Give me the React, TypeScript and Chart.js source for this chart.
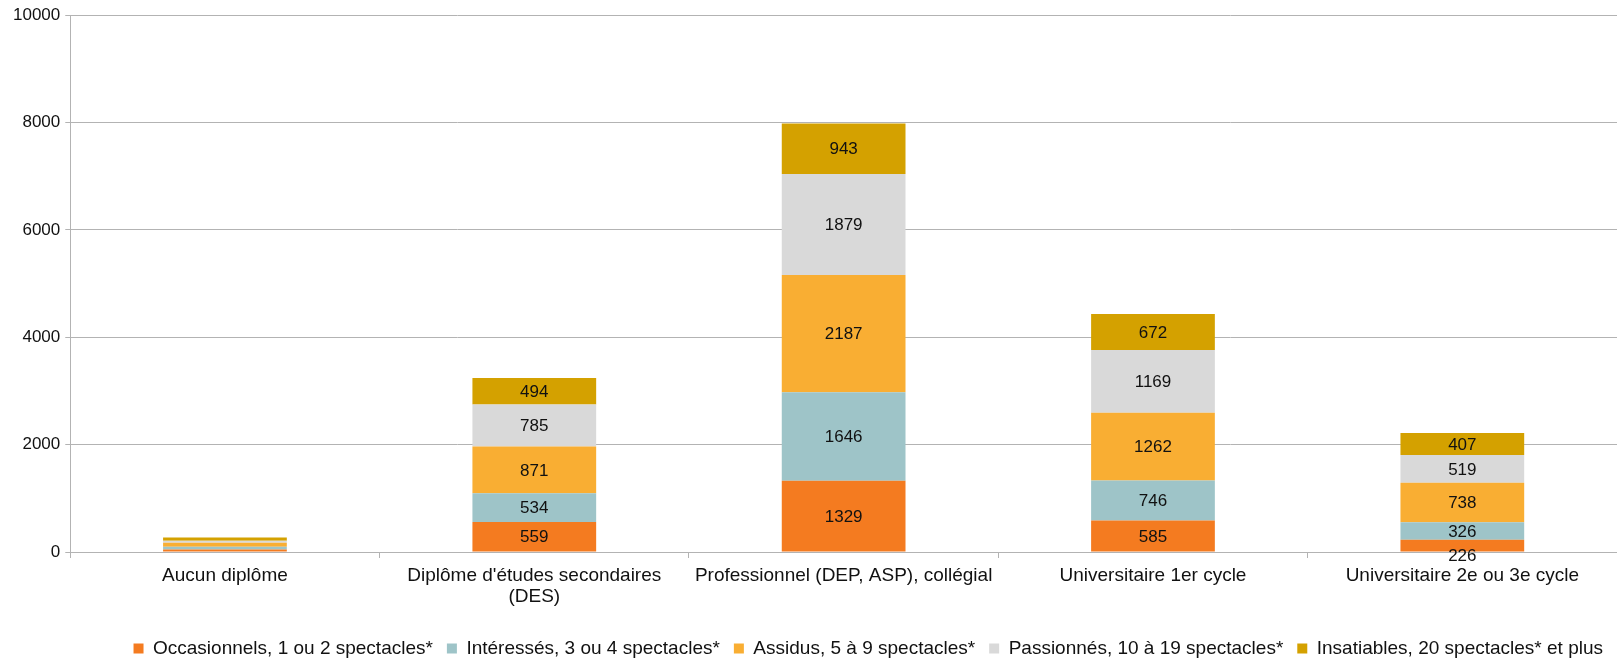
import React, { useEffect, useRef } from "react";
import { Chart, registerables } from "chart.js";

Chart.register(...registerables);

const categories: (string | string[])[] = [
  "Aucun diplôme",
  ["Diplôme d'études secondaires", "(DES)"],
  "Professionnel (DEP, ASP), collégial",
  "Universitaire 1er cycle",
  "Universitaire 2e ou 3e cycle",
];

const seriesNames = [
  "Occasionnels, 1 ou 2 spectacles*",
  "Intéressés, 3 ou 4 spectacles*",
  "Assidus, 5 à 9 spectacles*",
  "Passionnés, 10 à 19 spectacles*",
  "Insatiables, 20 spectacles* et plus",
];

const occasionnels = [45, 559, 1329, 585, 226];
const interesses = [55, 534, 1646, 746, 326];
const assidus = [70, 871, 2187, 1262, 738];
const passionnes = [40, 785, 1879, 1169, 519];
const insatiables = [60, 494, 943, 672, 407];

const seriesColors = ["#F47B20", "#9EC4C8", "#F9AE33", "#D9D9D9", "#D4A100"];

const yMin = 0;
const yMax = 10000;
const yStep = 2000;

const FONT = "'Liberation Sans', Arial, sans-serif";

const labelPlugin = {
  id: "segmentLabels",
  afterDatasetsDraw(chart: any) {
    const ctx = chart.ctx;
    const n = chart.data.labels.length;
    const dsCount = chart.data.datasets.length;
    ctx.save();
    ctx.font = `17px ${FONT}`;
    ctx.fillStyle = "#111";
    ctx.textAlign = "center";
    ctx.textBaseline = "middle";
    for (let i = 0; i < n; i++) {
      let prev: number | null = null;
      for (let d = dsCount - 1; d >= 0; d--) {
        const meta = chart.getDatasetMeta(d);
        const el: any = meta.data[i];
        if (!el) continue;
        const h = el.base - el.y;
        if (h < 8) continue;
        let cy = (el.y + el.base) / 2;
        if (prev !== null && cy - prev < 24) cy = prev + 24;
        prev = cy;
        const v = chart.data.datasets[d].data[i];
        ctx.fillText(String(v), el.x, cy + 1);
      }
    }
    ctx.restore();
  },
};

export default function App() {
  const ref = useRef<HTMLCanvasElement | null>(null);
  useEffect(() => {
    if (!ref.current) return;
    const values = [occasionnels, interesses, assidus, passionnes, insatiables];
    const chart = new Chart(ref.current, {
      type: "bar",
      data: {
        labels: categories as any,
        datasets: values.map((vals, k) => ({
          label: seriesNames[k],
          data: vals,
          backgroundColor: seriesColors[k],
          borderWidth: 0,
          barPercentage: 0.4,
          categoryPercentage: 1,
        })),
      },
      options: {
        responsive: false,
        animation: false,
        layout: { padding: { left: 8, right: 0, top: 12, bottom: -8 } },
        plugins: {
          tooltip: { enabled: false },
          legend: {
            position: "bottom",
            align: "end",
            labels: {
              font: { family: FONT, size: 19 },
              color: "#111",
              boxWidth: 10,
              boxHeight: 10,
              padding: 14,
            },
          },
        },
        scales: {
          x: {
            stacked: true,
            grid: {
              drawOnChartArea: false,
              drawTicks: true,
              tickLength: 6,
              color: "#b3b3b3",
            },
            border: { color: "#b3b3b3" },
            ticks: {
              font: { family: FONT, size: 19, lineHeight: 1.1 },
              color: "#111",
              padding: 7,
              maxRotation: 0,
              autoSkip: false,
            },
            afterFit: (scale: any) => {
              scale.height = 73;
            },
          },
          y: {
            stacked: true,
            min: yMin,
            max: yMax,
            ticks: {
              stepSize: yStep,
              font: { family: FONT, size: 17 },
              color: "#111",
              padding: 5,
              callback: (v: any) => String(v),
            },
            grid: { color: "#b3b3b3", tickLength: 5 },
            border: { color: "#b3b3b3" },
          },
        },
      },
      plugins: [labelPlugin],
    });
    return () => chart.destroy();
  }, []);
  return (
    <div style={{ position: "fixed", left: 0, top: 0, width: 1617, height: 660, background: "#fff" }}>
      <canvas ref={ref} width={1617} height={660} style={{ width: 1617, height: 660 }} />
    </div>
  );
}
